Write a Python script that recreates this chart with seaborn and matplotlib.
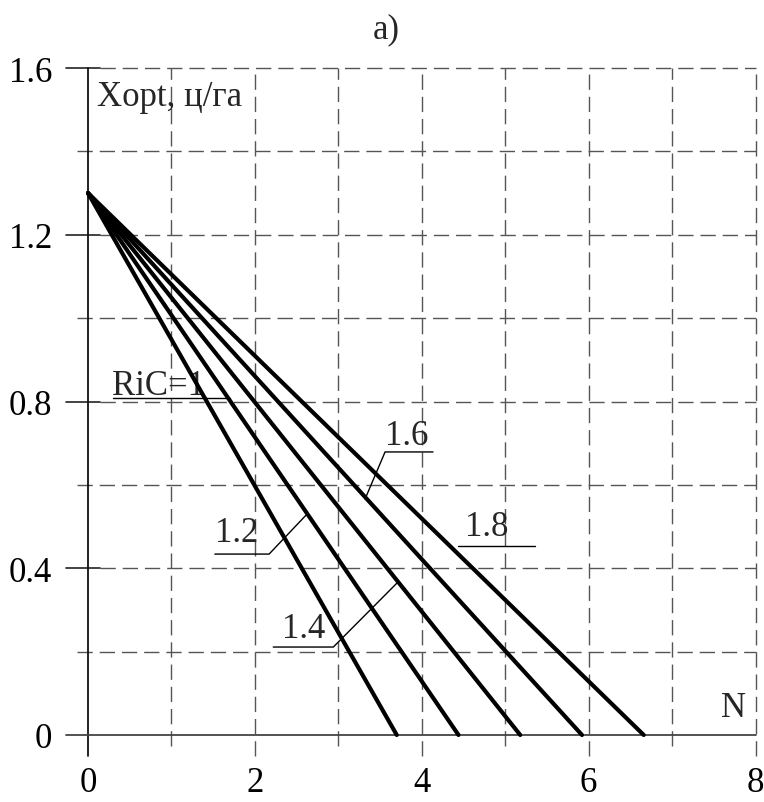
import matplotlib
matplotlib.use("Agg")
import matplotlib.pyplot as plt
import seaborn as sns
import numpy as np
import pandas as pd

# ---- data ----
ric_values = [1.0, 1.2, 1.4, 1.6, 1.8]
x_start = [0.0, 0.0, 0.0, 0.0, 0.0]
y_start = [1.3, 1.3, 1.3, 1.3, 1.3]
x_end = [3.70, 4.44, 5.18, 5.92, 6.66]
y_end = [0.0, 0.0, 0.0, 0.0, 0.0]
x_ticks = [0, 2, 4, 6, 8]
y_ticks = [0, 0.4, 0.8, 1.2, 1.6]
x_tick_labels = ["0", "2", "4", "6", "8"]
y_tick_labels = ["0", "0.4", "0.8", "1.2", "1.6"]
x_grid = [1, 2, 3, 4, 5, 6, 7, 8]
y_grid = [0.2, 0.4, 0.6, 0.8, 1.0, 1.2, 1.4, 1.6]
label_texts = ["RiC=1", "1.2", "1.4", "1.6", "1.8"]

rows = []
for r, xs, ys, xe, ye in zip(ric_values, x_start, y_start, x_end, y_end):
    rows.append({"RiC": r, "N": xs, "X": ys})
    rows.append({"RiC": r, "N": xe, "X": ye})
df = pd.DataFrame(rows)

sns.set_theme(style="white")
plt.rcParams["font.family"] = ["Liberation Serif", "DejaVu Serif"]

W, H = 764, 803
fig = plt.figure(figsize=(W / 100, H / 100), dpi=100)
ax = fig.add_axes([63 / W, (H - 761) / H, (759.7 - 63) / W, (761 - 60.7) / H])
ax.set_xlim(-0.3, 8.05)
ax.set_ylim(-0.06, 1.62)
for s in ax.spines.values():
    s.set_visible(False)
ax.set_facecolor("white")

grid_c = "#555555"
dash = dict(color=grid_c, lw=1.0, linestyle=(0, (11, 5)), zorder=1)

# vertical grid lines
for gx in x_grid:
    y0 = -0.05 if gx % 2 == 0 else -0.026
    ax.plot([gx, gx], [y0, 1.6], **dash)
# horizontal grid lines
for gy in y_grid:
    major = abs(round(gy / 0.4) * 0.4 - gy) < 1e-6
    if major:
        ax.plot([-0.26, 0.14], [gy, gy], color="#222222", lw=1.2, zorder=2)
        ax.plot([0.14, 8.0], [gy, gy], **dash)
    else:
        ax.plot([-0.13, 8.0], [gy, gy], **dash)

# axes lines
ax.plot([0, 0], [-0.05, 1.6], color="#111111", lw=1.3, zorder=3)
ax.plot([-0.26, 8.0], [0, 0], color="#444444", lw=1.3, zorder=3)

# main lines
sns.lineplot(data=df, x="N", y="X", units="RiC", estimator=None,
             color="black", lw=3.0, ax=ax, zorder=4, legend=False)
ax.set_xlabel("")
ax.set_ylabel("")

fs = 25
# ticks
ax.set_xticks(x_ticks)
ax.set_xticklabels(x_tick_labels)
ax.set_yticks(y_ticks)
ax.set_yticklabels(y_tick_labels)
ax.tick_params(axis="both", length=0, labelsize=fs, colors="black")
ax.tick_params(axis="x", pad=4)
ax.tick_params(axis="y", pad=8)

lw_lead = 1.0
# axis captions
ax.text(0.11, 1.511, "Xopt, ц/га", fontsize=fs, ha="left", va="baseline")
ax.text(7.73, 0.046, "N", fontsize=fs, ha="center", va="baseline")

# labels with leaders
ax.text(0.29, 0.818, label_texts[0], fontsize=fs, ha="left", va="baseline")
ax.plot([0.30, 1.70], [0.808, 0.808], color="black", lw=lw_lead, zorder=5)

ax.text(1.52, 0.465, label_texts[1], fontsize=fs, ha="left", va="baseline")
ax.plot([1.52, 2.17, 2.625], [0.434, 0.434, 0.530], color="black", lw=lw_lead, zorder=5)

ax.text(2.325, 0.235, label_texts[2], fontsize=fs, ha="left", va="baseline")
ax.plot([2.22, 2.94, 3.715], [0.211, 0.211, 0.367], color="black", lw=lw_lead, zorder=5)

ax.text(3.56, 0.698, label_texts[3], fontsize=fs, ha="left", va="baseline")
ax.plot([4.135, 3.56, 3.32], [0.679, 0.679, 0.566], color="black", lw=lw_lead, zorder=5)

ax.text(4.52, 0.48, label_texts[4], fontsize=fs, ha="left", va="baseline")
ax.plot([4.43, 5.36], [0.453, 0.453], color="black", lw=lw_lead, zorder=5)

# title
fig.text(386 / W, 1 - 38 / H, "a)", fontsize=fs, ha="center", va="baseline")

fig.savefig("out.png", dpi=100, facecolor="white")
